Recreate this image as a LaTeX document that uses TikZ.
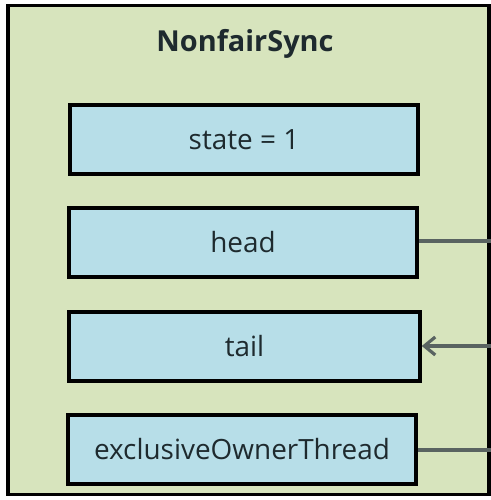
\documentclass[tikz,border=0pt]{standalone}
\usepackage{fontspec}
\setmainfont{Open Sans}
\usetikzlibrary{arrows.meta}
\definecolor{bggreen}{HTML}{D7E4BD}
\definecolor{boxblue}{HTML}{B7DEE8}
\definecolor{txt}{HTML}{1E2A2E}
\definecolor{conn}{HTML}{596361}
\begin{document}
\begin{tikzpicture}[x=1bp,y=-1bp,
  field/.style={draw=black,line width=3.5bp,fill=boxblue,minimum width=348bp,minimum height=69bp,inner sep=0pt,font=\fontsize{28}{32}\selectfont,text=txt},
  link/.style={draw=conn,line width=3.2bp}]
\useasboundingbox (0,0) rectangle (491,500);
\node[draw=black,line width=3.5bp,fill=bggreen,minimum width=481bp,minimum height=489bp,inner sep=0pt] (outer) at (248.5,250) {};
\node[font=\fontsize{29}{33}\selectfont\bfseries,text=txt] (title) at (245,44) {NonfairSync};
\node[field] (state) at (244,139.5) {state = 1};
\node[field] (head) at (243,242.5) {head};
\node[field,minimum width=351bp] (tail) at (244.5,346.5) {tail};
\node[field] (owner) at (242,449.5) {exclusiveOwnerThread};
\coordinate (headout) at (492,241);
\coordinate (tailin) at (492,346);
\coordinate (ownerout) at (492,450);
\draw[link] (head.east |- headout) -- (headout);
\draw[link,-{Straight Barb[length=11bp,width=18bp,line width=3.2bp]}] (tailin) -- (tail.east |- tailin);
\draw[link] (owner.east |- ownerout) -- (ownerout);
\end{tikzpicture}
\end{document}
